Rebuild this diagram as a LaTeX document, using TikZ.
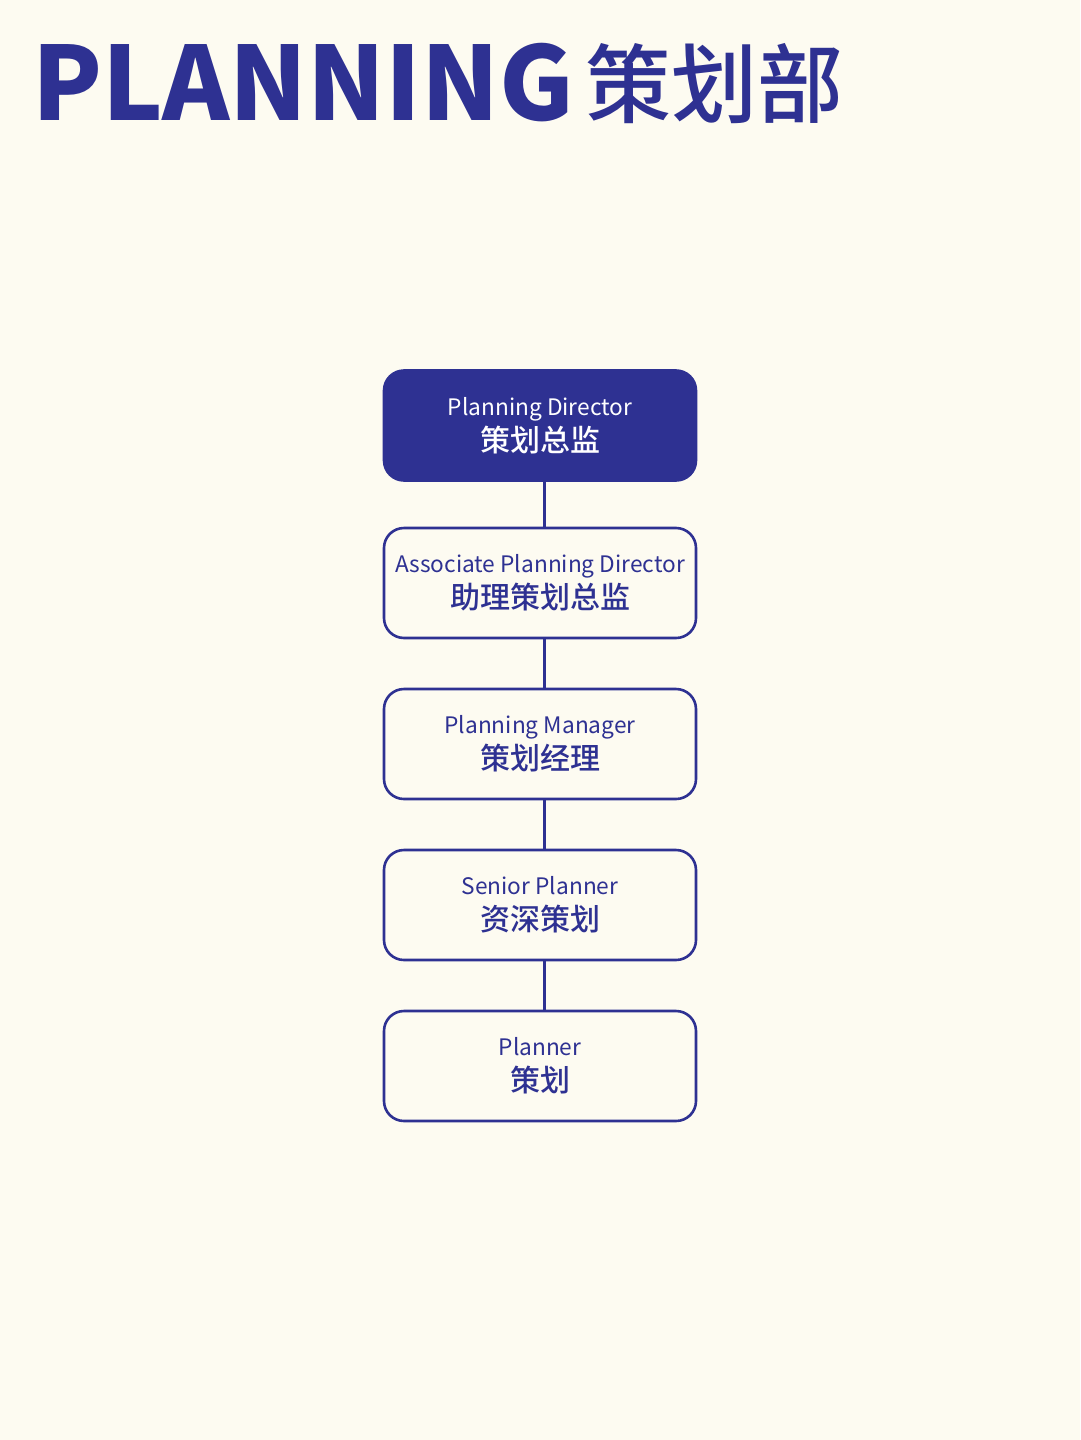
\documentclass[tikz,border=0pt]{standalone}
\usepackage{fontspec}
\setmainfont{Noto Sans CJK SC}
\newfontfamily\cjkmed{Noto Sans CJK SC Medium}
\definecolor{navy}{HTML}{2E3192}
\definecolor{bg}{HTML}{FDFBF1}
\begin{document}
\begin{tikzpicture}[x=1pt,y=-1pt,
  rolebox/.style={draw=navy,line width=2.6pt,rounded corners=20pt,minimum width=312pt,minimum height=110pt,fill=bg,text=navy,align=center,inner sep=0pt,font=\fontsize{22.7}{36}\selectfont},
  topbox/.style={rolebox,fill=navy,text=white},
  link/.style={draw=navy,line width=3pt},
]
\fill[bg] (0,0) rectangle (1080,1440);
\useasboundingbox (0,0) rectangle (1080,1440);
\node[anchor=base west,text=navy,inner sep=0pt] (title) at (32,120) {\fontsize{102}{110}\selectfont\bfseries PLANNING};
\node[anchor=base west,text=navy,inner sep=0pt] (titlecn) at (585,116) {\fontsize{86}{90}\selectfont\cjkmed 策划部};
\newcommand{\rolelabel}[2]{#1\\{\fontsize{30}{36}\selectfont\cjkmed #2}}
\node[topbox] (b1) at (540,425.5) {\rolelabel{Planning Director}{策划总监}};
\node[rolebox] (b2) at (540,583) {\rolelabel{Associate Planning Director}{助理策划总监}};
\node[rolebox] (b3) at (540,744) {\rolelabel{Planning Manager}{策划经理}};
\node[rolebox] (b4) at (540,905) {\rolelabel{Senior Planner}{资深策划}};
\node[rolebox] (b5) at (540,1066) {\rolelabel{Planner}{策划}};
\draw[link] ([xshift=4pt]b1.south) -- ([xshift=4pt]b2.north);
\draw[link] ([xshift=4pt]b2.south) -- ([xshift=4pt]b3.north);
\draw[link] ([xshift=4pt]b3.south) -- ([xshift=4pt]b4.north);
\draw[link] ([xshift=4pt]b4.south) -- ([xshift=4pt]b5.north);
\end{tikzpicture}
\end{document}
